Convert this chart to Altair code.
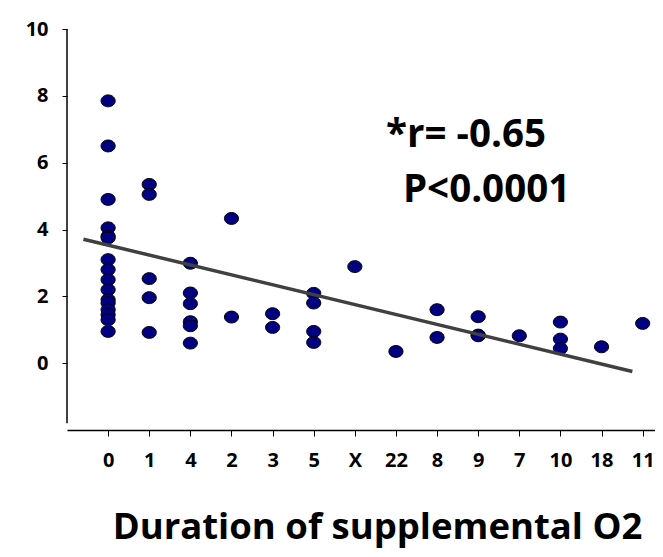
import altair as alt
import pandas as pd

# categories on the x axis (order as shown)
categories = ["0", "1", "4", "2", "3", "5", "X", "22", "8", "9", "7", "10", "18", "11"]

# y values per category
vals_0 = [7.85, 6.5, 4.9, 4.05, 3.8, 3.75, 3.1, 2.8, 2.5, 2.2, 1.9, 1.8, 1.6, 1.45, 1.3, 0.95]
vals_1 = [5.35, 5.05, 2.53, 1.96, 0.92]
vals_4 = [2.99, 2.1, 1.78, 1.24, 1.12, 0.6]
vals_2 = [4.33, 1.38]
vals_3 = [1.48, 1.07]
vals_5 = [2.09, 1.8, 0.95, 0.62]
vals_X = [2.89]
vals_22 = [0.35]
vals_8 = [1.6, 0.77]
vals_9 = [1.39, 0.84, 0.82]
vals_7 = [0.82]
vals_10 = [1.23, 0.72, 0.44]
vals_18 = [0.49]
vals_11 = [1.19]

series = [vals_0, vals_1, vals_4, vals_2, vals_3, vals_5, vals_X, vals_22,
          vals_8, vals_9, vals_7, vals_10, vals_18, vals_11]

# trend line end points (category position, value)
trend_pos = [-0.6, 12.75]
trend_val = [3.71, -0.25]

rows = []
for i, (cat, vs) in enumerate(zip(categories, series)):
    for v in vs:
        rows.append({"pos": i, "cat": cat, "value": v})
df = pd.DataFrame(rows)
trend = pd.DataFrame({"pos": trend_pos, "value": trend_val})

label_expr = "[" + ",".join(f"'{c}'" for c in categories) + "][datum.value]"

FONT = "Open Sans"

xscale = alt.Scale(domain=[-1, 13.3], nice=False, zero=False)
yscale = alt.Scale(domain=[-2, 10], nice=False, zero=False)

points = alt.Chart(df).mark_point(
    shape="M -1 0 A 1 0.84 0 1 0 1 0 A 1 0.84 0 1 0 -1 0 Z",
    filled=True, fill="#000080", stroke="#000000", strokeWidth=1,
    size=200, opacity=1
).encode(
    x=alt.X("pos:Q", scale=xscale,
            axis=alt.Axis(values=list(range(len(categories))), labelExpr=label_expr,
                          grid=False, domainColor="#000000", domainWidth=1.5,
                          tickColor="#000000", tickSize=6, tickWidth=1,
                          labelFont=FONT, labelFontSize=20, labelFontWeight="bold",
                          labelColor="#000000", labelPadding=14, labelOverlap=False,
                          labelBound=False, labelFlush=False,
                          title="Duration of supplemental O2", titleFont=FONT,
                          titleFontSize=36.5, titleFontWeight="bold", titleColor="#000000",
                          titleX=310, titleY=97, titleAlign="center", titleBaseline="middle")),
    y=alt.Y("value:Q", scale=yscale,
            axis=alt.Axis(values=[0, 2, 4, 6, 8, 10], grid=False, domain=False,
                          tickColor="#000000", tickSize=5, tickWidth=1,
                          labelFont=FONT, labelFontSize=20, labelFontWeight="bold",
                          labelColor="#000000", labelPadding=14, title=None))
)

yline = alt.Chart(pd.DataFrame({"a": [0]})).mark_rule(color="#000000", strokeWidth=1.5).encode(
    x=alt.value(0), y=alt.datum(10), y2=alt.datum(-1.8)
)

line = alt.Chart(trend).mark_line(color="#404040", strokeWidth=3.5).encode(
    x=alt.X("pos:Q", scale=xscale), y=alt.Y("value:Q", scale=yscale)
)

ann = pd.DataFrame({"pos": [6.76, 7.17], "value": [6.82, 5.18], "txt": ["*r= -0.65", "P<0.0001"]})
text = alt.Chart(ann).mark_text(
    font=FONT, fontSize=38.5, fontWeight="bold", align="left", baseline="middle", color="#000000"
).encode(
    x=alt.X("pos:Q", scale=xscale), y=alt.Y("value:Q", scale=yscale), text="txt:N"
)

chart = alt.layer(yline, points, line, text).properties(
    width=588, height=401,
    autosize=alt.AutoSizeParams(type="none"),
    padding={"left": 59, "top": 21, "right": 0, "bottom": 119}
).configure_view(stroke=None)

chart.save("out.html", embed_options={"renderer": "svg", "actions": False})
